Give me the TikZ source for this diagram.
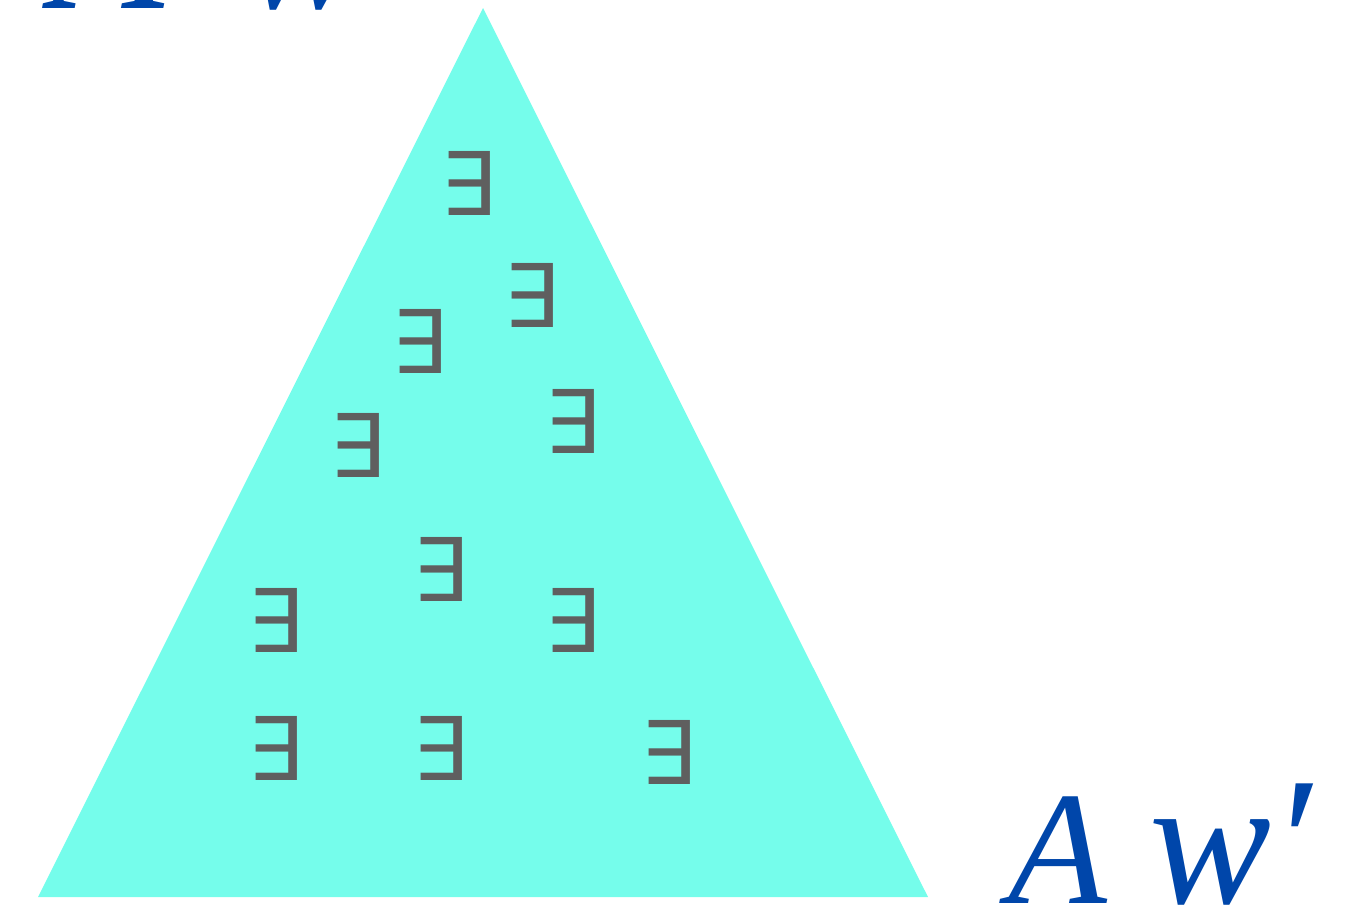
\documentclass[tikz,border=0pt]{standalone}
\usepackage{fontspec}
\newfontfamily\symfont{DejaVu Sans}
\newfontfamily\lblfont{Liberation Serif}
\usepackage{tikz}
\definecolor{triaqua}{RGB}{117,253,235}
\definecolor{exgray}{RGB}{95,95,95}
\definecolor{lblblue}{RGB}{0,70,170}

\begin{document}
\begin{tikzpicture}[
    exsym/.style={text=exgray, font=\symfont\fontsize{25}{25}\selectfont, inner sep=0pt},
    lbl/.style={text=lblblue, font=\lblfont\itshape\fontsize{46}{46}\selectfont, inner sep=0pt, anchor=base west}]
    \useasboundingbox (0,0) rectangle (13.48,9.05);
    % triangle
    \coordinate (L) at (0.38,0.08);
    \coordinate (R) at (9.28,0.08);
    \coordinate (T) at (4.83,8.97);
    \fill[triaqua] (L) -- (R) -- (T) -- cycle;

    % existential quantifiers
    \foreach \x/\y [count=\i] in {4.68/7.22, 5.31/6.10, 4.19/5.64, 3.57/4.60, 5.72/4.84,
                                  4.40/3.36, 2.75/2.85, 5.72/2.85, 2.75/1.57, 4.40/1.57, 6.68/1.53}
        \node (E\i) [exsym] at (\x,\y) {∃};

    % labels
    \node (topA) [lbl, font=\lblfont\itshape\fontsize{52}{52}\selectfont] at (0.52,8.97) {A\hspace{22pt}w};
    \node (botA) [lbl] at (10.08,0.02) {A\hspace{12pt}{\fontsize{52}{52}\selectfont w′}};
\end{tikzpicture}
\end{document}
